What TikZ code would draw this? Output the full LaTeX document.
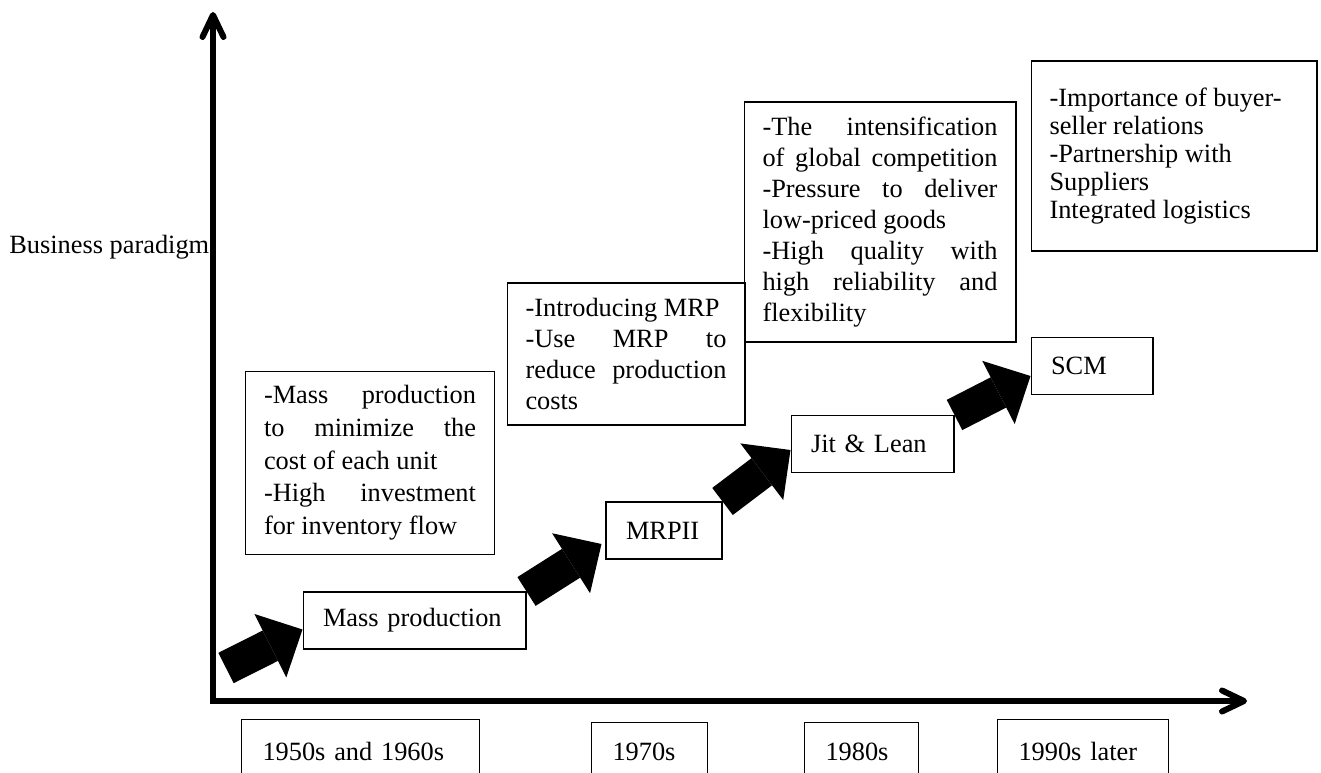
\documentclass[tikz,border=0pt]{standalone}
\usepackage{fontspec}
\setmainfont{Liberation Serif}
\usetikzlibrary{arrows.meta}

\begin{document}
\begin{tikzpicture}[x=0.02cm, y=-0.02cm,
    every node/.style={font=\fontsize{15pt}{17.6pt}\selectfont},
    desc/.style={draw, line width=0.6pt, align=justify, inner xsep=0.37cm, inner ysep=0pt,
      execute at begin node={\parindent=0pt \tolerance=10000 \hyphenpenalty=10000 }},
    lab/.style={draw, line width=0.6pt, align=left, inner xsep=0.4cm, minimum height=1.14cm},
    yearbox/.style={draw, line width=0.6pt, anchor=north west, align=left, inner xsep=0.42cm,
      inner ysep=0.45cm, text height=0.37cm, text depth=0.5cm},
    axis/.style={line width=0.12cm, line join=miter,
      {Straight Barb[length=0.44cm,width=0.42cm,round]}-{Straight Barb[length=0.44cm,width=0.42cm,round]}},
    bigarrow/.style={line width=0.68cm, -{Triangle[length=0.72cm,width=1.42cm,line width=0pt]}}]
    \useasboundingbox (0,0) rectangle (1321,773);
    \coordinate (top) at (213,12);
    \coordinate (o) at (213,701);
    \coordinate (right) at (1247,701);
    \draw[axis] (top) -- (o) -- (right);
    \node[anchor=base west, inner sep=0] (para) at (9,254) {Business paradigm};

    \node[desc, text width=4.24cm, minimum height=3.66cm, font=\fontsize{15pt}{18.6pt}\selectfont] (massdesc) at (370,463)
      {-Mass production\linebreak to minimize the\linebreak cost of each unit\newline -High investment\linebreak for inventory flow};
    \node[desc, text width=4.02cm, minimum height=2.84cm] (mrpdesc) at (626,354)
      {-Introducing MRP\newline -Use MRP to\linebreak reduce production\linebreak costs};
    \node[desc, text width=4.7cm, minimum height=4.8cm] (compdesc) at (880,222)
      {-The intensification\linebreak of global competition\linebreak -Pressure to deliver\linebreak low-priced goods\newline -High quality with\linebreak high reliability and\linebreak flexibility};
    \node[desc, text width=4.98cm, minimum height=3.8cm, font=\fontsize{15pt}{16pt}\selectfont] (scmdesc) at (1174,156)
      {-Importance of buyer-\newline seller relations\newline -Partnership with\newline Suppliers\newline Integrated logistics};

    \node[lab, text width=3.66cm] (mp) at (414.5,620.5) {Mass production};
    \node[lab, text width=1.52cm] (mrpii) at (664,530.5) {MRPII};
    \node[lab, text width=2.46cm] (jit) at (872.5,444) {Jit \& Lean};
    \node[lab, text width=1.64cm] (scm) at (1092,366) {SCM};

    \coordinate (s0) at (226,668);
    \draw[bigarrow] (s0) -- ([yshift=-0.18cm]mp.west);
    \draw[bigarrow] (mp.north east) -- ([xshift=-0.08cm,yshift=-0.27cm]mrpii.west);
    \draw[bigarrow] (mrpii.north east) -- ([yshift=-0.12cm]jit.west);
    \draw[bigarrow] (jit.north east) -- ([yshift=-0.2cm]scm.west);

    \node[yearbox, text width=3.92cm] (y50) at (241,719) {1950s and 1960s};
    \node[yearbox, text width=1.48cm, inner ysep=0.39cm] (y70) at (591,722) {1970s};
    \node[yearbox, text width=1.44cm, inner ysep=0.39cm] (y80) at (804,722) {1980s};
    \node[yearbox, text width=2.58cm] (y90) at (997,719) {1990s later};
\end{tikzpicture}
\end{document}
